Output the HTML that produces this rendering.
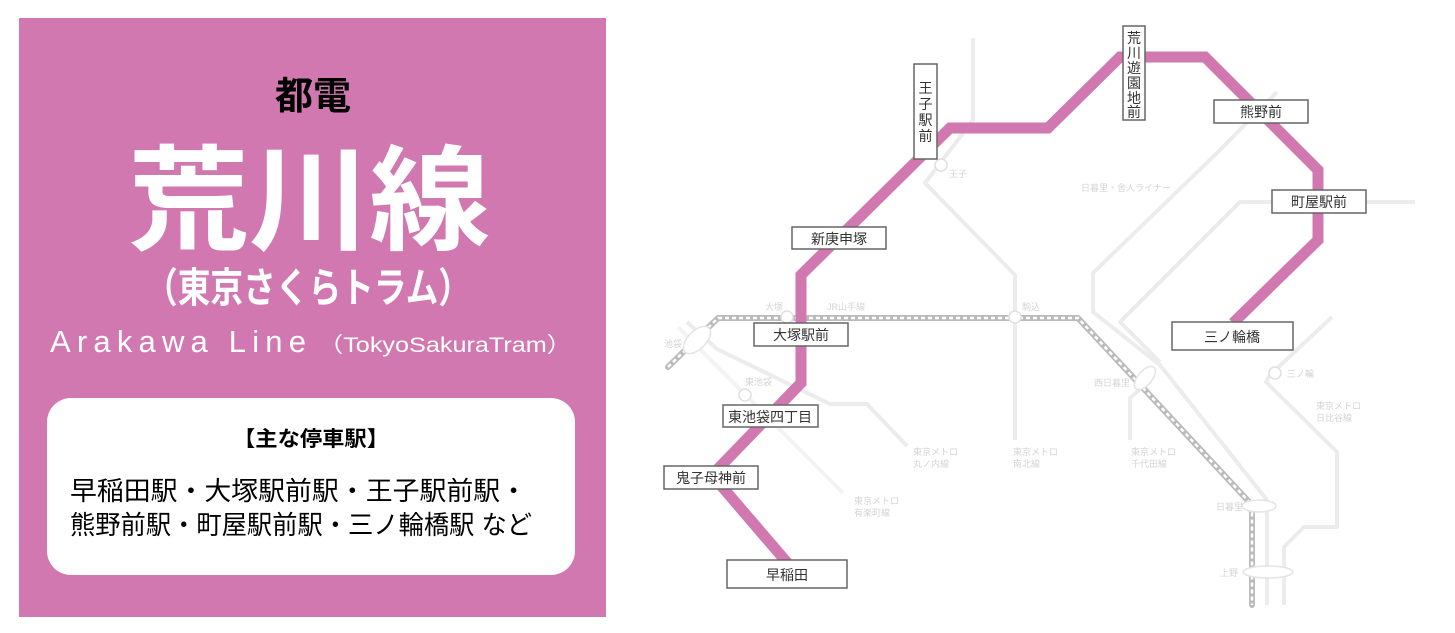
<!DOCTYPE html>
<html><head><meta charset="utf-8"><style>
html,body{margin:0;padding:0;background:#fff;}
svg{display:block;font-family:"Liberation Sans","Noto Sans CJK JP",sans-serif;}
.g{fill:none;stroke:#ececec;stroke-width:4;stroke-linejoin:round}
.sl{fill:#d4d4d4;font-size:9px}
.bx{fill:#fff;stroke:#666;stroke-width:1.5}
.st{fill:#333;font-size:14px;text-anchor:middle}
</style></head><body>
<svg width="1455" height="633" viewBox="0 0 1455 633">
<rect x="19" y="18" width="587" height="599" fill="#d278b0"/>
<text x="313" y="109" font-size="38" font-weight="bold" text-anchor="middle" fill="#000">都電</text>
<text x="309" y="241" font-size="114" font-weight="bold" text-anchor="middle" fill="#fff" textLength="362" lengthAdjust="spacingAndGlyphs">荒川線</text>
<text x="308" y="302" font-size="41" font-weight="bold" text-anchor="middle" fill="#fff" textLength="326" lengthAdjust="spacingAndGlyphs">（東京さくらトラム）</text>
<text x="50" y="352" font-size="31" fill="#fff" textLength="256" lengthAdjust="spacing">Arakawa  Line</text>
<text x="318" y="352" font-size="21" fill="#fff" textLength="254" lengthAdjust="spacingAndGlyphs">（TokyoSakuraTram）</text>
<rect x="47" y="398" width="528" height="177" rx="24" fill="#fff"/>
<text x="311" y="446" font-size="21" font-weight="bold" text-anchor="middle" fill="#000" textLength="156" lengthAdjust="spacingAndGlyphs">【主な停車駅】</text>
<text x="70" y="500" font-size="26" fill="#000" textLength="457" lengthAdjust="spacingAndGlyphs">早稲田駅・大塚駅前駅・王子駅前駅・</text>
<text x="70" y="534" font-size="26" fill="#000" textLength="462" lengthAdjust="spacingAndGlyphs">熊野前駅・町屋駅前駅・三ノ輪橋駅 など</text>

<polyline class="g" points="973,38 973,120 925,183 1015,275 1015,440"/>
<polyline class="g" points="1220,150 1093,273 1093,312 1160,365 1267,500 1267,605"/>
<polyline class="g" points="1277,92 1220,150"/>
<polyline class="g" points="1415,202 1240,202 1120,322 1160,362"/>
<polyline class="g" points="1145,385 1130,398 1130,440"/>
<polyline class="g" points="1332,317 1270,375 1266,382 1337,452 1337,527 1304,527 1284,547 1284,605"/>
<polyline class="g" points="687,322 717,349 830,404 867,404 907,446"/>
<polyline class="g" points="678,327 843,493" style="stroke:#f3f3f3"/>
<polyline points="668,367 718,318 1078,318 1252,505 1252,605" fill="none" stroke="#bbb" stroke-width="6" stroke-linejoin="round" stroke-linecap="round"/>
<polyline points="668,367 718,318 1078,318 1252,505 1252,605" fill="none" stroke="#fff" stroke-width="2.5" stroke-dasharray="4,3"/>
<ellipse cx="697" cy="340" rx="17" ry="9" transform="rotate(-45 697 340)" fill="#fff" stroke="#e4e4e4" stroke-width="1.5"/>
<ellipse cx="1145" cy="378" rx="14" ry="7" transform="rotate(-50 1145 378)" fill="#fff" stroke="#e4e4e4" stroke-width="1.5"/>
<ellipse cx="1259" cy="506" rx="17" ry="6" fill="#fff" stroke="#e4e4e4" stroke-width="1.5"/>
<ellipse cx="1268" cy="572" rx="25" ry="6" fill="#fff" stroke="#e4e4e4" stroke-width="1.5"/>
<g fill="#fff" stroke="#e0e0e0" stroke-width="1.5">
<circle cx="745" cy="395" r="6"/><circle cx="787" cy="317" r="6"/><circle cx="1015" cy="317" r="6"/><circle cx="941" cy="165" r="6"/><circle cx="1275" cy="373" r="6"/>
</g>
<g class="sl">
<text x="664" y="347">池袋</text><text x="745" y="385">東池袋</text><text x="765" y="310">大塚</text><text x="827" y="310">JR山手線</text>
<text x="1022" y="310">駒込</text><text x="949" y="177">王子</text><text x="1081" y="191">日暮里・舎人ライナー</text>
<text x="1094" y="386">西日暮里</text><text x="1287" y="377">三ノ輪</text><text x="1216" y="510">日暮里</text><text x="1220" y="576">上野</text>
<text x="913" y="455">東京メトロ</text><text x="913" y="467">丸ノ内線</text>
<text x="1013" y="455">東京メトロ</text><text x="1013" y="467">南北線</text>
<text x="1131" y="455">東京メトロ</text><text x="1131" y="467">千代田線</text>
<text x="1316" y="409">東京メトロ</text><text x="1316" y="421">日比谷線</text>
<text x="854" y="504">東京メトロ</text><text x="854" y="516">有楽町線</text>
</g>
<polyline points="790,566 712,475 801,383 801,275 950,128 1048,128 1120,57 1205,57 1318,170 1318,240 1233,323" fill="none" stroke="#d278b0" stroke-width="11" stroke-linejoin="miter"/>
<rect class="bx" x="914" y="64" width="23" height="95"/>
<g class="st"><text x="925.5" y="93">王</text><text x="925.5" y="109">子</text><text x="925.5" y="125">駅</text><text x="925.5" y="141">前</text></g>
<rect class="bx" x="1123" y="26" width="22" height="94"/>
<g class="st"><text x="1134" y="43">荒</text><text x="1134" y="58">川</text><text x="1134" y="73">遊</text><text x="1134" y="88">園</text><text x="1134" y="103">地</text><text x="1134" y="117">前</text></g>
<rect class="bx" x="1214" y="100" width="94" height="23"/><text class="st" x="1261" y="117">熊野前</text>
<rect class="bx" x="1272" y="190" width="94" height="23"/><text class="st" x="1319" y="207">町屋駅前</text>
<rect class="bx" x="792" y="227" width="94" height="22"/><text class="st" x="839" y="244">新庚申塚</text>
<rect class="bx" x="754" y="323" width="94" height="23"/><text class="st" x="801" y="340">大塚駅前</text>
<rect class="bx" x="1172" y="322" width="121" height="28"/><text class="st" x="1232" y="342" font-size="15">三ノ輪橋</text>
<rect class="bx" x="723" y="405" width="95" height="22"/><text class="st" x="770" y="422">東池袋四丁目</text>
<rect class="bx" x="664" y="466" width="94" height="23"/><text class="st" x="711" y="483">鬼子母神前</text>
<rect class="bx" x="727" y="560" width="120" height="28"/><text class="st" x="787" y="580" font-size="15">早稲田</text>
</svg>
</body></html>
